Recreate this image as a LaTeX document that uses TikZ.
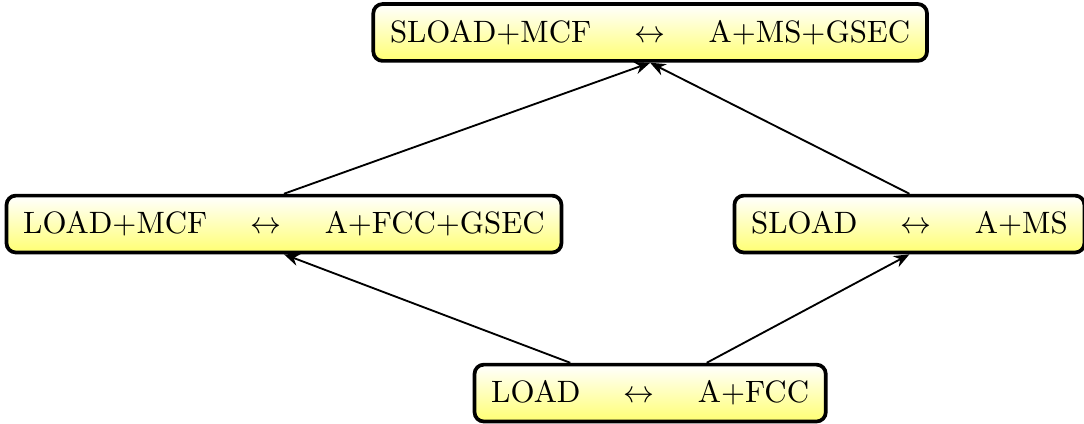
\documentclass[tikz,border=0pt]{standalone}
\usetikzlibrary{arrows.meta}
\newcommand{\lra}{\hspace{1.4em}$\leftrightarrow$\hspace{1.4em}}

\begin{document}
\begin{tikzpicture}[x=1pt,y=1pt,
    state/.style={draw, very thick, rounded corners=3pt, top color=white,
      bottom color=yellow!55, inner xsep=5.4pt, minimum height=18.4pt},
    link/.style={semithick, -{Stealth[length=5pt,width=4pt]}}]
  \useasboundingbox (0,0) rectangle (350.8,-137.2);
  \node[state] (sloadmcf) at (210.4,-10.5) {SLOAD+MCF\lra A+MS+GSEC};
  \node[state] (loadmcf) at (91.9,-72.5) {LOAD+MCF\lra A+FCC+GSEC};
  \node[state] (sload) at (294.3,-72.5) {SLOAD\lra A+MS};
  \node[state] (load) at (210.4,-127.2) {LOAD\lra A+FCC};

  \draw[link] (load) -- (loadmcf.south);
  \draw[link] (load) -- (sload.south);
  \draw[link] (loadmcf.north) -- (sloadmcf.south);
  \draw[link] (sload.north) -- (sloadmcf.south);
\end{tikzpicture}
\end{document}
